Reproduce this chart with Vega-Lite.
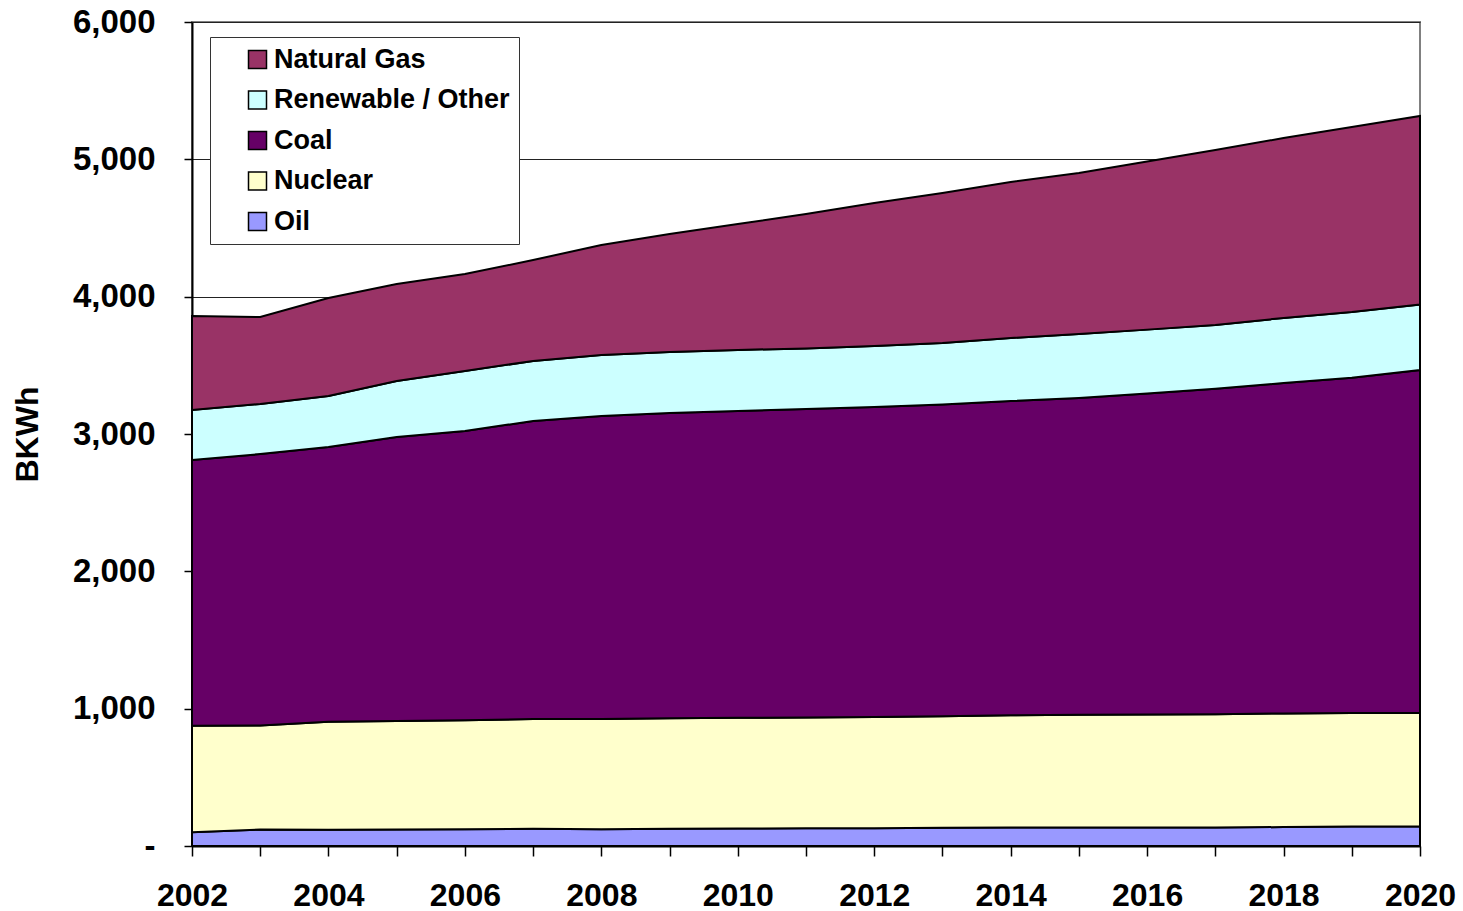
{
  "$schema": "https://vega.github.io/schema/vega-lite/v6.json",
  "width": 1228,
  "height": 824,
  "autosize": "none",
  "padding": {"left": 192, "top": 22, "right": 43, "bottom": 65},
  "background": "white",
  "config": {
    "font": "Liberation Sans",
    "view": {"stroke": "#808080", "strokeWidth": 2},
    "axis": {"labelFont": "Liberation Sans", "titleFont": "Liberation Sans", "labelColor": "black", "titleColor": "black"}
  },
  "data": {
    "values": [
      {"year": 2002, "source": "Oil", "value": 100}, {"year": 2002, "source": "Nuclear", "value": 775}, {"year": 2002, "source": "Coal", "value": 1936}, {"year": 2002, "source": "Renewable / Other", "value": 364}, {"year": 2002, "source": "Natural Gas", "value": 685},
      {"year": 2003, "source": "Oil", "value": 120}, {"year": 2003, "source": "Nuclear", "value": 758}, {"year": 2003, "source": "Coal", "value": 1976}, {"year": 2003, "source": "Renewable / Other", "value": 365}, {"year": 2003, "source": "Natural Gas", "value": 633},
      {"year": 2004, "source": "Oil", "value": 118}, {"year": 2004, "source": "Nuclear", "value": 787}, {"year": 2004, "source": "Coal", "value": 2000}, {"year": 2004, "source": "Renewable / Other", "value": 372}, {"year": 2004, "source": "Natural Gas", "value": 713},
      {"year": 2005, "source": "Oil", "value": 120}, {"year": 2005, "source": "Nuclear", "value": 790}, {"year": 2005, "source": "Coal", "value": 2068}, {"year": 2005, "source": "Renewable / Other", "value": 408}, {"year": 2005, "source": "Natural Gas", "value": 706},
      {"year": 2006, "source": "Oil", "value": 122}, {"year": 2006, "source": "Nuclear", "value": 793}, {"year": 2006, "source": "Coal", "value": 2107}, {"year": 2006, "source": "Renewable / Other", "value": 437}, {"year": 2006, "source": "Natural Gas", "value": 706},
      {"year": 2007, "source": "Oil", "value": 125}, {"year": 2007, "source": "Nuclear", "value": 800}, {"year": 2007, "source": "Coal", "value": 2170}, {"year": 2007, "source": "Renewable / Other", "value": 437}, {"year": 2007, "source": "Natural Gas", "value": 735},
      {"year": 2008, "source": "Oil", "value": 122}, {"year": 2008, "source": "Nuclear", "value": 803}, {"year": 2008, "source": "Coal", "value": 2206}, {"year": 2008, "source": "Renewable / Other", "value": 444}, {"year": 2008, "source": "Natural Gas", "value": 801},
      {"year": 2009, "source": "Oil", "value": 125}, {"year": 2009, "source": "Nuclear", "value": 805}, {"year": 2009, "source": "Coal", "value": 2223}, {"year": 2009, "source": "Renewable / Other", "value": 444}, {"year": 2009, "source": "Natural Gas", "value": 859},
      {"year": 2010, "source": "Oil", "value": 127}, {"year": 2010, "source": "Nuclear", "value": 806}, {"year": 2010, "source": "Coal", "value": 2235}, {"year": 2010, "source": "Renewable / Other", "value": 444}, {"year": 2010, "source": "Natural Gas", "value": 917},
      {"year": 2011, "source": "Oil", "value": 130}, {"year": 2011, "source": "Nuclear", "value": 805}, {"year": 2011, "source": "Coal", "value": 2247}, {"year": 2011, "source": "Renewable / Other", "value": 441}, {"year": 2011, "source": "Natural Gas", "value": 979},
      {"year": 2012, "source": "Oil", "value": 130}, {"year": 2012, "source": "Nuclear", "value": 810}, {"year": 2012, "source": "Coal", "value": 2257}, {"year": 2012, "source": "Renewable / Other", "value": 444}, {"year": 2012, "source": "Natural Gas", "value": 1041},
      {"year": 2013, "source": "Oil", "value": 132}, {"year": 2013, "source": "Nuclear", "value": 813}, {"year": 2013, "source": "Coal", "value": 2270}, {"year": 2013, "source": "Renewable / Other", "value": 448}, {"year": 2013, "source": "Natural Gas", "value": 1092},
      {"year": 2014, "source": "Oil", "value": 135}, {"year": 2014, "source": "Nuclear", "value": 817}, {"year": 2014, "source": "Coal", "value": 2288}, {"year": 2014, "source": "Renewable / Other", "value": 459}, {"year": 2014, "source": "Natural Gas", "value": 1136},
      {"year": 2015, "source": "Oil", "value": 135}, {"year": 2015, "source": "Nuclear", "value": 820}, {"year": 2015, "source": "Coal", "value": 2307}, {"year": 2015, "source": "Renewable / Other", "value": 466}, {"year": 2015, "source": "Natural Gas", "value": 1172},
      {"year": 2016, "source": "Oil", "value": 135}, {"year": 2016, "source": "Nuclear", "value": 822}, {"year": 2016, "source": "Coal", "value": 2338}, {"year": 2016, "source": "Renewable / Other", "value": 465}, {"year": 2016, "source": "Natural Gas", "value": 1225},
      {"year": 2017, "source": "Oil", "value": 135}, {"year": 2017, "source": "Nuclear", "value": 825}, {"year": 2017, "source": "Coal", "value": 2370}, {"year": 2017, "source": "Renewable / Other", "value": 464}, {"year": 2017, "source": "Natural Gas", "value": 1274},
      {"year": 2018, "source": "Oil", "value": 138}, {"year": 2018, "source": "Nuclear", "value": 827}, {"year": 2018, "source": "Coal", "value": 2406}, {"year": 2018, "source": "Renewable / Other", "value": 474}, {"year": 2018, "source": "Natural Gas", "value": 1310},
      {"year": 2019, "source": "Oil", "value": 142}, {"year": 2019, "source": "Nuclear", "value": 826}, {"year": 2019, "source": "Coal", "value": 2442}, {"year": 2019, "source": "Renewable / Other", "value": 478}, {"year": 2019, "source": "Natural Gas", "value": 1348},
      {"year": 2020, "source": "Oil", "value": 142}, {"year": 2020, "source": "Nuclear", "value": 828}, {"year": 2020, "source": "Coal", "value": 2496}, {"year": 2020, "source": "Renewable / Other", "value": 477}, {"year": 2020, "source": "Natural Gas", "value": 1373}
    ]
  },
  "transform": [
    {"calculate": "indexof(['Oil', 'Nuclear', 'Coal', 'Renewable / Other', 'Natural Gas'], datum.source)", "as": "stackOrder"}
  ],
  "mark": {"type": "area", "stroke": "black", "strokeWidth": 2, "opacity": 1, "fillOpacity": 1, "interpolate": "linear"},
  "encoding": {
    "x": {
      "field": "year",
      "type": "quantitative",
      "scale": {"domain": [2002, 2020], "nice": false, "zero": false},
      "axis": {
        "title": null,
        "values": [2002, 2003, 2004, 2005, 2006, 2007, 2008, 2009, 2010, 2011, 2012, 2013, 2014, 2015, 2016, 2017, 2018, 2019, 2020],
        "labelExpr": "datum.value % 2 == 0 ? format(datum.value, 'd') : ''",
        "labelOverlap": false,
        "labelFlush": false,
        "labelFontSize": 32,
        "labelFontWeight": "bold",
        "labelPadding": 24,
        "tickSize": 10,
        "tickColor": "black",
        "tickWidth": 1.5,
        "domainColor": "black",
        "domainWidth": 2,
        "grid": false
      }
    },
    "y": {
      "field": "value",
      "type": "quantitative",
      "stack": "zero",
      "scale": {"domain": [0, 6000], "nice": false},
      "axis": {
        "title": "BKWh",
        "titleFontSize": 32,
        "titleFontWeight": "bold",
        "titlePadding": 28,
        "values": [0, 1000, 2000, 3000, 4000, 5000, 6000],
        "labelExpr": "datum.value == 0 ? '-' : format(datum.value, ',')",
        "labelFontSize": 33,
        "labelFontWeight": "bold",
        "labelPadding": 29,
        "labelFlush": false,
        "tickSize": 8,
        "tickColor": "black",
        "tickWidth": 1.5,
        "domainColor": "black",
        "domainWidth": 2,
        "grid": true,
        "gridColor": "#222",
        "gridWidth": 1
      }
    },
    "order": {"field": "stackOrder", "type": "quantitative", "sort": "ascending"},
    "color": {
      "field": "source",
      "type": "nominal",
      "scale": {
        "domain": ["Oil", "Nuclear", "Coal", "Renewable / Other", "Natural Gas"],
        "range": ["#9999FF", "#FFFFCC", "#660066", "#CCFFFF", "#993366"]
      },
      "legend": {
        "title": null,
        "values": ["Natural Gas", "Renewable / Other", "Coal", "Nuclear", "Oil"],
        "orient": "none",
        "legendX": 18,
        "legendY": 15,
        "fillColor": "white",
        "strokeColor": "#333",
        "padding": 9,
        "symbolOffset": 25,
        "symbolType": "square",
        "symbolSize": 324,
        "symbolStrokeColor": "black",
        "symbolStrokeWidth": 1.5,
        "symbolOpacity": 1,
        "labelFont": "Liberation Sans",
        "labelFontSize": 27,
        "labelFontWeight": "bold",
        "labelColor": "black",
        "labelOffset": 3,
        "labelLimit": 400,
        "rowPadding": 12.5
      }
    }
  }
}
